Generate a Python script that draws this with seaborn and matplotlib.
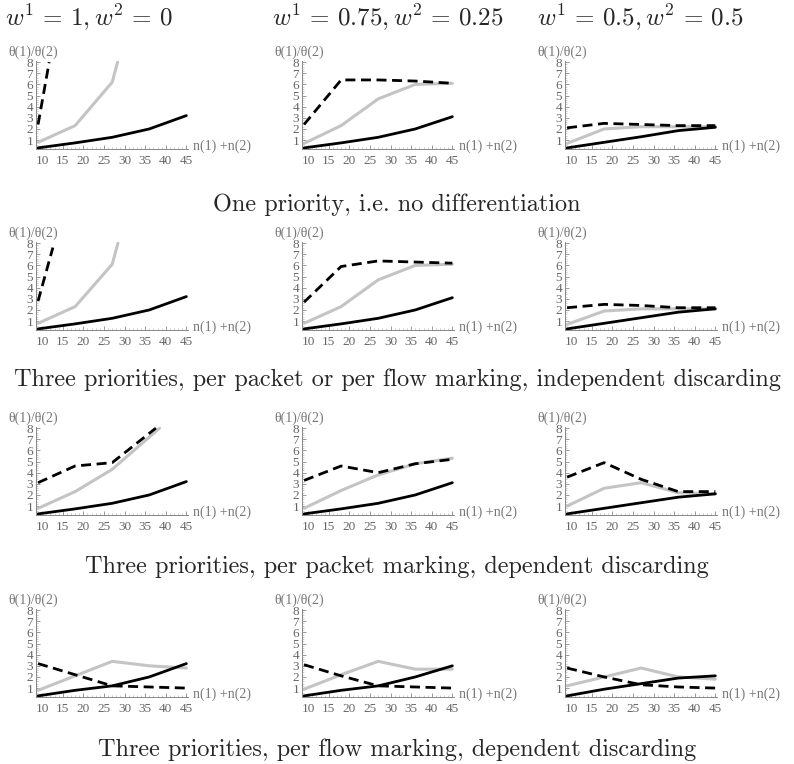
import numpy as np
import pandas as pd
import seaborn as sns
import matplotlib.pyplot as plt
from matplotlib.ticker import MultipleLocator

sns.set_style('white')
plt.rcParams['mathtext.fontset'] = 'cm'

# column headers (weights) and row captions
col_titles = [r'$w^1 \,=\, 1, w^2 \,=\, 0$', r'$w^1 \,=\, 0.75, w^2 \,=\, 0.25$',
              r'$w^1 \,=\, 0.5, w^2 \,=\, 0.5$']
row_captions = ['One priority, i.e. no differentiation',
                'Three priorities, per packet or per flow marking, independent discarding',
                'Three priorities, per packet marking, dependent discarding',
                'Three priorities, per flow marking, dependent discarding']

N = [9, 18, 27, 36, 45]

# row 1
r1_solid = [[0.3, 0.75, 1.25, 2.0, 3.2], [0.3, 0.75, 1.25, 2.0, 3.1], [0.3, 0.8, 1.3, 1.85, 2.15]]
r1_gray_x = [[9, 18, 27, 28.3], N, N]
r1_gray = [[0.8, 2.3, 6.2, 8.0], [0.7, 2.3, 4.7, 6.0, 6.1], [0.7, 2.0, 2.2, 2.2, 2.2]]
r1_dash_x = [[9, 11.7], N, N]
r1_dash = [[2.4, 8.0], [2.4, 6.4, 6.4, 6.3, 6.1], [2.1, 2.5, 2.4, 2.3, 2.3]]

# row 2
r2_solid = [[0.3, 0.75, 1.25, 2.0, 3.2], [0.3, 0.75, 1.25, 2.0, 3.1], [0.3, 0.8, 1.3, 1.8, 2.1]]
r2_gray_x = [[9, 18, 27, 28.4], N, N]
r2_gray = [[0.8, 2.3, 6.1, 8.0], [0.8, 2.3, 4.7, 6.0, 6.1], [0.7, 1.9, 2.1, 2.1, 2.1]]
r2_dash_x = [[9, 12.6], N, N]
r2_dash = [[2.8, 7.6], [2.7, 5.9, 6.4, 6.3, 6.2], [2.2, 2.5, 2.4, 2.2, 2.2]]

# row 3
r3_solid = [[0.3, 0.75, 1.25, 2.0, 3.2], [0.3, 0.75, 1.25, 2.0, 3.1], [0.3, 0.8, 1.3, 1.8, 2.1]]
r3_gray_x = [[9, 18, 27, 38.5], N, N]
r3_gray = [[0.8, 2.3, 4.3, 8.0], [0.8, 2.4, 3.8, 4.8, 5.3], [1.0, 2.6, 3.1, 2.2, 2.1]]
r3_dash_x = [[9, 18, 27, 37.6], N, N]
r3_dash = [[3.1, 4.6, 4.9, 8.0], [3.3, 4.6, 4.0, 4.8, 5.2], [3.6, 4.9, 3.4, 2.3, 2.3]]

# row 4
r4_solid = [[0.3, 0.8, 1.2, 2.0, 3.2], [0.3, 0.8, 1.2, 2.0, 3.0], [0.3, 0.9, 1.4, 1.9, 2.1]]
r4_gray_x = [N, N, N]
r4_gray = [[0.8, 2.1, 3.4, 3.0, 2.8], [0.9, 2.2, 3.4, 2.7, 2.7], [1.2, 2.0, 2.8, 2.0, 1.8]]
r4_dash_x = [N, N, N]
r4_dash = [[3.2, 2.2, 1.2, 1.1, 1.0], [3.1, 2.1, 1.2, 1.1, 1.0], [2.8, 2.0, 1.3, 1.1, 1.0]]

rows = [(r1_solid, r1_gray_x, r1_gray, r1_dash_x, r1_dash),
        (r2_solid, r2_gray_x, r2_gray, r2_dash_x, r2_dash),
        (r3_solid, r3_gray_x, r3_gray, r3_dash_x, r3_dash),
        (r4_solid, r4_gray_x, r4_gray, r4_dash_x, r4_dash)]

W, H = 794, 764
fig = plt.figure(figsize=(W / 100, H / 100), dpi=100)

col_left = [36, 302, 565]      # pixel x of y-axis
row_base = [149, 330, 515, 697]  # pixel y of x-axis
ax_w, ax_h = 152, 88
label_font = dict(family='Liberation Serif', size=10, color='#777777')

for r, (solid, gx, gy, dx, dy) in enumerate(rows):
    for c in range(3):
        L, B = col_left[c], row_base[r]
        ax = fig.add_axes([L / W, 1 - B / H, ax_w / W, ax_h / H])
        sns.lineplot(x=gx[c], y=gy[c], ax=ax, color='#c4c4c4', lw=2.2,
                     estimator=None, sort=False)
        sns.lineplot(x=N, y=solid[c], ax=ax, color='black', lw=2.0,
                     estimator=None, sort=False)
        sns.lineplot(x=dx[c], y=dy[c], ax=ax, color='black', lw=2.0,
                     estimator=None, sort=False, linestyle=(0, (3.6, 2.0)))
        ax.set_xlim(8.5, 45.4)
        ax.set_ylim(0.2, 8.1)
        ax.set_xticks([10, 15, 20, 25, 30, 35, 40, 45])
        ax.set_yticks(range(1, 9))
        ax.xaxis.set_minor_locator(MultipleLocator(1))
        ax.yaxis.set_minor_locator(MultipleLocator(0.2))
        ax.tick_params(which='major', direction='in', length=3, width=0.6,
                       color='#888888', labelsize=9.5, labelcolor='#666666')
        ax.tick_params(axis='x', pad=4)
        ax.tick_params(axis='y', pad=2)
        ax.tick_params(which='minor', direction='in', length=1.5, width=0.4,
                       color='#aaaaaa')
        ax.tick_params(left=True, bottom=True, which='both')
        for lab in ax.get_xticklabels() + ax.get_yticklabels():
            lab.set_family('Liberation Serif')
        sns.despine(ax=ax)
        for s in ['left', 'bottom']:
            ax.spines[s].set_color('#888888')
            ax.spines[s].set_linewidth(0.7)
        ax.set_xlabel('')
        ax.set_ylabel('')
        ax.text(-0.18, 1.1, 'θ(1)/θ(2)', transform=ax.transAxes, fontdict=label_font,
                ha='left', va='center')
        ax.text(1.03, 0.03, 'n(1) +n(2)', transform=ax.transAxes, fontdict=label_font,
                ha='left', va='center')

title_x = [5, 272, 537]
for c, t in enumerate(col_titles):
    fig.text(title_x[c] / W, 1 - 18 / H, t, fontsize=18, ha='left', va='center')

cap_y = [205, 380, 567, 750]
for r, t in enumerate(row_captions):
    fig.text(0.5, 1 - cap_y[r] / H, t, fontsize=17.5, family='cmr10',
             ha='center', va='center')

plt.savefig('out.png', dpi=100)
